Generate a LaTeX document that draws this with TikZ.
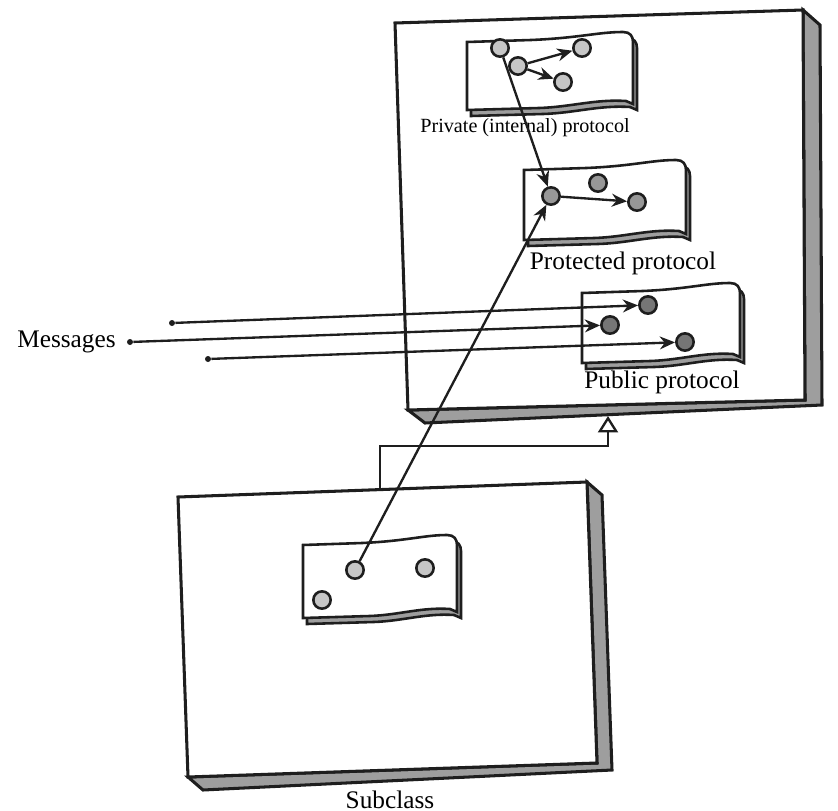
\documentclass[tikz,border=0pt]{standalone}
\usepackage{fontspec}
\setmainfont{Liberation Serif}
\usepackage{tikz}
\usetikzlibrary{arrows.meta, positioning, calc}
\definecolor{ink}{HTML}{1E1E1E}
\definecolor{dotpale}{HTML}{C6C6C6}
\definecolor{dotmid}{HTML}{979797}
\definecolor{dotdark}{HTML}{767676}
\definecolor{edgegray}{HTML}{9E9E9E}
\tikzstyle{dotnode}=[circle,draw=ink,line width=1.1pt,
  minimum size=0.26cm,inner sep=0pt]
\tikzstyle{palenode}=[dotnode,fill=dotpale]
\tikzstyle{midnode}=[dotnode,fill=dotmid]
\tikzstyle{darknode}=[dotnode,fill=dotdark]
\tikzstyle{msgstart}=[circle,fill=ink,minimum size=0.09cm,inner sep=0pt]
\tikzstyle{arr}=[-{Stealth[length=6.5pt,width=5.5pt]},line width=1pt,color=ink]
\tikzstyle{boxface}=[line width=1.3pt,draw=ink,fill=white]
\tikzstyle{boxside}=[line width=1.3pt,draw=ink,fill=edgegray]
\tikzstyle{lbl}=[font=\fontsize{10.8}{12}\selectfont,inner sep=1pt]
% torn sheet outline, #1 = width, #2 = height (pixel units)
\newcommand{\panelface}[2]{(0,0) -- ({0.4*#1},-2)
  .. controls ({0.7*#1},-4) and ({0.82*#1},-10) .. ({#1-4},-10)
  .. controls ({#1+3},-10) and ({#1+6},-6) .. ({#1+6},0)
  -- ({#1+6},{#2-6}) -- ({#1-1},{#2-9})
  .. controls ({0.8*#1},{#2-11}) and ({0.65*#1},{#2-3}) .. ({0.45*#1},{#2-2})
  -- (0,#2) -- cycle}
\tikzset{pics/torn/.style 2 args={code={
  \filldraw[line width=1.1pt,draw=ink,fill=edgegray,shift={(4,6)}] \panelface{#1}{#2};
  \filldraw[line width=1.1pt,draw=ink,fill=white] \panelface{#1}{#2};
}}}

\begin{document}
\begin{tikzpicture}[x=0.015cm,y=-0.015cm]
  \useasboundingbox (0,0) rectangle (838,811);
  % superclass
  \filldraw[boxside] (803,10) -- (820,25) -- (822,405) -- (425,423) -- (408,410) -- (805,400) -- cycle;
  \filldraw[boxface] (395,23) -- (803,10) -- (805,400) -- (408,410) -- cycle;
  % subclass
  \filldraw[boxside] (587,482) -- (602,495) -- (612,770) -- (203,790) -- (188,777) -- (597,763) -- cycle;
  \filldraw[boxface] (178,497) -- (587,482) -- (597,763) -- (188,777) -- cycle;
  \coordinate (subTop) at (380,490);
  \coordinate (supBot) at (608,416);
  \draw[line width=1pt,ink,-{Triangle[open,length=7pt,width=8.5pt]}] (subTop) |- ($(supBot)+(0,30)$) -- (supBot);

  \pic at (467,42) {torn={160}{68}};
  \pic at (524,170) {torn={156}{70}};
  \pic at (582,293) {torn={152}{70}};
  \pic at (303,545) {torn={148}{73}};

  \node[palenode] (pv1) at (500,48) {};
  \node[palenode] (pv2) at (518,66) {};
  \node[palenode] (pv3) at (582,48) {};
  \node[palenode] (pv4) at (563,82) {};
  \node[midnode] (pt1) at (551,196) {};
  \node[midnode] (pt2) at (598,183) {};
  \node[midnode] (pt3) at (637,202) {};
  \node[darknode] (pb1) at (648,305) {};
  \node[darknode] (pb2) at (610,325) {};
  \node[darknode] (pb3) at (685,342) {};
  \node[palenode] (sb1) at (322,600) {};
  \node[palenode] (sb2) at (355,570) {};
  \node[palenode] (sb3) at (425,568) {};

  \node[lbl,font=\fontsize{8.6}{10}\selectfont] (privLbl) at (525,128) {Private (internal) protocol};
  \node[lbl] (protLbl) at (623,263) {Protected protocol};
  \node[lbl] (pubLbl) at (662,382) {Public protocol};
  \node[lbl] (subLbl) at (390,800) {Subclass};

  \node[msgstart] (m1) at (172,323) {};
  \node[msgstart] (m2) at (130,342) {};
  \node[msgstart] (m3) at (208,359) {};
  \node[lbl,left=0.12cm of m2] (msgLbl) {Messages};

  \draw[arr] (pv2) -- (pv3);
  \draw[arr] (pv2) -- (pv4);
  \draw[arr] (pt1) -- (pt3);
  \draw[arr] (pv1) -- (pt1);
  \draw[arr] (sb2) -- (pt1);
  \draw[arr] (m1) -- (pb1);
  \draw[arr] (m2) -- (pb2);
  \draw[arr] (m3) -- (pb3);
\end{tikzpicture}
\end{document}
